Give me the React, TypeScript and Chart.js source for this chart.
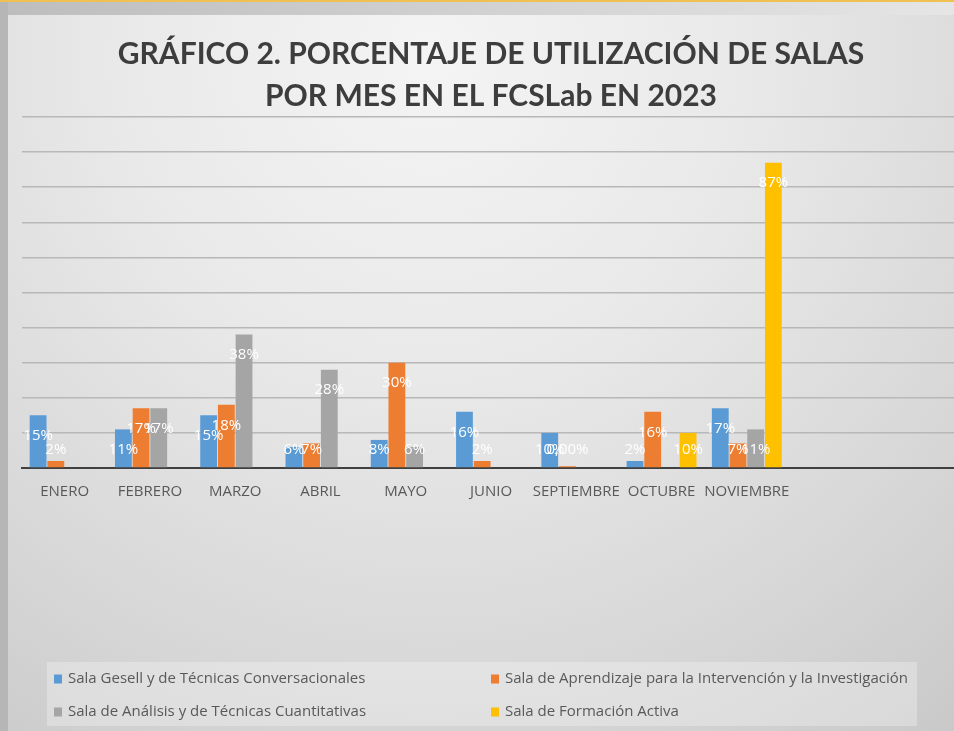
import React, { useEffect, useRef } from "react";
import { Chart, registerables } from "chart.js";

Chart.register(...registerables);

const months = ["ENERO", "FEBRERO", "MARZO", "ABRIL", "MAYO", "JUNIO", "SEPTIEMBRE", "OCTUBRE", "NOVIEMBRE", "", ""];

const seriesNames = [
  "Sala Gesell y de Técnicas Conversacionales",
  "Sala de Aprendizaje para la Intervención y la Investigación",
  "Sala de Análisis y de Técnicas Cuantitativas",
  "Sala de Formación Activa",
];

const gesell = [15, 11, 15, 6, 8, 16, 10, 2, 17, null, null];
const aprendizaje = [2, 17, 18, 7, 30, 2, 0.5, 16, 7, null, null];
const analisis = [null, 17, 38, 28, 6, null, null, null, 11, null, null];
const formacion = [null, null, null, null, null, null, null, 10, 87, null, null];

// label text shown for each value (Excel showed one label with a different format)
const labelOverrides: Record<string, string> = { "1-6": "0,00%" };

const seriesColors = ["#5b9bd5", "#ed7d31", "#a5a5a5", "#ffc000"];

const titleLines = ["GRÁFICO 2. PORCENTAJE DE UTILIZACIÓN DE SALAS", "POR MES EN EL FCSLab EN 2023"];

const backgroundPlugin = {
  id: "bgPlugin",
  beforeDraw(chart: any) {
    const { ctx, width, height } = chart;
    ctx.save();
    ctx.fillStyle = "#bcbcbc";
    ctx.fillRect(0, 0, width, height);
    const band = ctx.createLinearGradient(0, 0, width, 0);
    band.addColorStop(0, "#bdbdbd");
    band.addColorStop(1, "#e6e6e6");
    ctx.fillStyle = band;
    ctx.fillRect(0, 2, width, 13);
    ctx.fillStyle = "#f0c050";
    ctx.fillRect(0, 0, width, 2);
    ctx.fillStyle = "#b6b6b6";
    ctx.fillRect(0, 2, 8, height);
    const g = ctx.createRadialGradient(430, 60, 0, 430, 60, 900);
    g.addColorStop(0, "#f4f4f4");
    g.addColorStop(0.35, "#e9e9e9");
    g.addColorStop(0.7, "#d7d7d7");
    g.addColorStop(1, "#c6c6c6");
    ctx.fillStyle = g;
    ctx.fillRect(8, 15, width - 8, height - 15);
    ctx.restore();
  },
};

const dataLabelPlugin = {
  id: "dataLabels",
  afterDatasetsDraw(chart: any) {
    const { ctx } = chart;
    ctx.save();
    ctx.font = '15px "Open Sans"';
    ctx.fillStyle = "#ffffff";
    ctx.textAlign = "center";
    ctx.textBaseline = "middle";
    chart.data.datasets.forEach((ds: any, i: number) => {
      const meta = chart.getDatasetMeta(i);
      meta.data.forEach((el: any, j: number) => {
        const v = ds.data[j];
        if (v == null) return;
        const text = labelOverrides[`${i}-${j}`] ?? `${v}%`;
        const y = Math.min(el.y + 20.5, el.base - 18);
        ctx.fillText(text, el.x, y);
      });
    });
    ctx.restore();
  },
};

const legendPlugin = {
  id: "customLegend",
  afterDraw(chart: any) {
    const { ctx } = chart;
    ctx.save();
    ctx.fillStyle = "rgba(255,255,255,0.28)";
    ctx.fillRect(47, 662, 870, 64);
    ctx.font = '15px "Open Sans"';
    ctx.textBaseline = "middle";
    ctx.textAlign = "left";
    const cols = [54, 491];
    const rows = [679, 712];
    chart.data.datasets.forEach((ds: any, i: number) => {
      const x = cols[i % 2];
      const y = rows[Math.floor(i / 2)];
      ctx.fillStyle = ds.backgroundColor;
      ctx.fillRect(x, y - 4.5, 8, 9);
      ctx.fillStyle = "#595959";
      ctx.fillText(ds.label, x + 14, y);
    });
    ctx.restore();
  },
};

export default function App() {
  const ref = useRef<HTMLCanvasElement>(null);
  useEffect(() => {
    if (!ref.current) return;
    Chart.defaults.font.family = '"Open Sans", sans-serif';
    const series = [gesell, aprendizaje, analisis, formacion];
    const chart = new Chart(ref.current, {
      type: "bar",
      data: {
        labels: months,
        datasets: series.map((d, i) => ({
          label: seriesNames[i],
          data: d,
          backgroundColor: seriesColors[i],
          borderWidth: 0,
          barPercentage: 0.95,
          categoryPercentage: 0.83,
        })),
      },
      options: {
        animation: false,
        responsive: false,
        devicePixelRatio: 1,
        layout: { padding: { left: 22, right: 10, top: 0, bottom: 215 } },
        plugins: {
          legend: { display: false },
          tooltip: { enabled: false },
          title: {
            display: true,
            text: titleLines,
            color: "#3d3d3d",
            font: { family: "Lato", size: 30, weight: "bold", lineHeight: 1.4 },
            padding: { top: 33, bottom: 0 },
          },
        },
        scales: {
          x: {
            grid: { display: false, drawTicks: false },
            border: { display: true, color: "#404040", width: 2 },
            ticks: { color: "#595959", font: { size: 15 }, padding: 15, maxRotation: 0, autoSkip: false },
          },
          y: {
            min: 0,
            max: 100,
            ticks: { display: false, stepSize: 10 },
            grid: { color: "#b8b8b8", lineWidth: 1.5, drawTicks: false },
            border: { display: false },
          },
        },
      },
      plugins: [backgroundPlugin, dataLabelPlugin, legendPlugin],
    });
    return () => chart.destroy();
  }, []);
  return (
    <div style={{ position: "fixed", left: 0, top: 0, width: 954, height: 731, overflow: "hidden" }}>
      <canvas ref={ref} width={970} height={731} style={{ display: "block", width: 970, height: 731 }} />
    </div>
  );
}
